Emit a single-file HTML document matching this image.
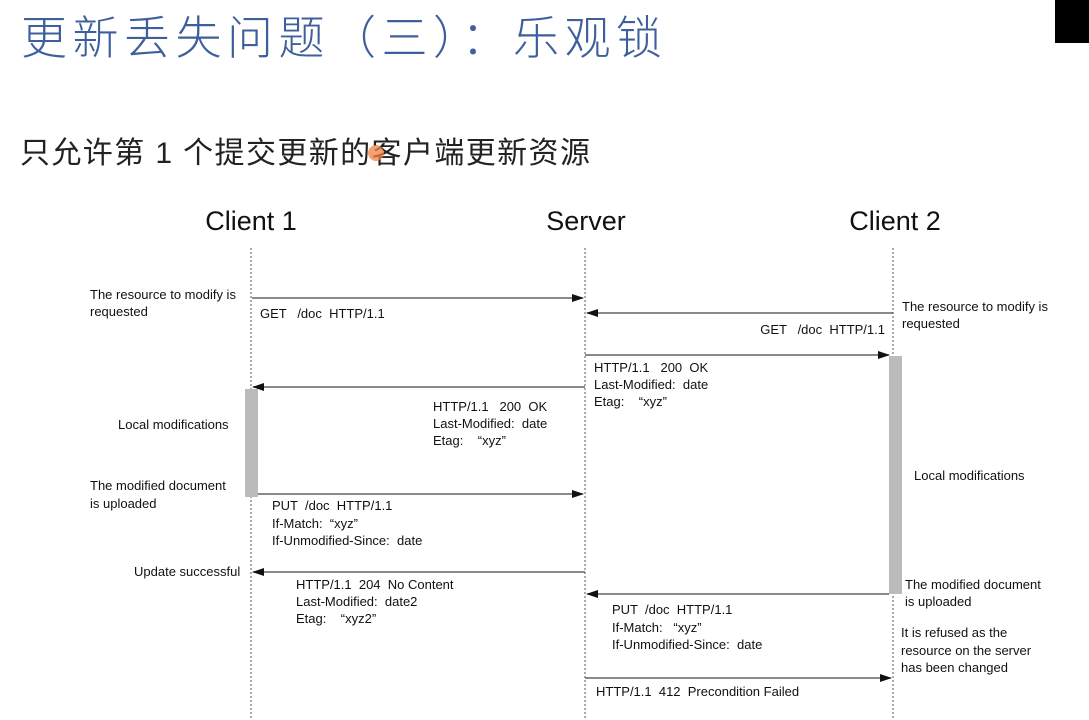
<!DOCTYPE html>
<html><head><meta charset="utf-8"><style>
body{margin:0;width:1089px;height:720px;background:#fff;overflow:hidden;position:relative;font-family:"Liberation Sans","Noto Sans CJK SC",sans-serif}
.t{position:absolute;white-space:nowrap}
svg text{white-space:pre}
</style></head><body>
<div class="t" style="left:21px;top:2px;font-size:46px;letter-spacing:5.5px;color:#3f5f9c;font-weight:300">更新丢失问题（三）：乐观锁</div>
<div style="position:absolute;left:1055px;top:0;width:34px;height:43px;background:#000"></div>
<div class="t" style="left:20px;top:128px;font-size:30px;letter-spacing:1.4px;color:#222">只允许第 1 个提交更新的客户端更新资源</div>
<div style="position:absolute;left:368px;top:145px;width:16px;height:16px;border-radius:50%;background:rgba(240,130,70,0.75)"></div>
<svg width="1089" height="720" style="position:absolute;left:0;top:0" font-family="Liberation Sans, sans-serif" font-size="13" fill="#111" xml:space="preserve">
<defs><marker id="a" markerWidth="12" markerHeight="8" refX="11" refY="4" orient="auto" markerUnits="userSpaceOnUse"><path d="M0,0 L12,4 L0,8z" fill="#111"/></marker></defs>
<text x="251" y="230" font-size="27" text-anchor="middle">Client 1</text>
<text x="586" y="230" font-size="27" text-anchor="middle">Server</text>
<text x="895" y="230" font-size="27" text-anchor="middle">Client 2</text>
<g stroke="#555" stroke-dasharray="2,2" stroke-width="1">
<line x1="251" y1="248" x2="251" y2="720"/><line x1="585" y1="248" x2="585" y2="720"/><line x1="893" y1="248" x2="893" y2="720"/></g>
<rect x="245" y="389" width="13" height="108" fill="#bbb"/>
<rect x="889" y="356" width="13" height="238" fill="#bbb"/>
<g stroke="#444" stroke-width="1.3" marker-end="url(#a)">
<line x1="252" y1="298" x2="583" y2="298"/>
<line x1="893" y1="313" x2="587" y2="313"/>
<line x1="585" y1="355" x2="889" y2="355"/>
<line x1="585" y1="387" x2="253" y2="387"/>
<line x1="258" y1="494" x2="583" y2="494"/>
<line x1="585" y1="572" x2="253" y2="572"/>
<line x1="889" y1="594" x2="587" y2="594"/>
<line x1="585" y1="678" x2="891" y2="678"/>
</g>
<text x="90" y="299">The resource to modify is</text><text x="90" y="316">requested</text>
<text x="260" y="318">GET   /doc  HTTP/1.1</text>
<text x="902" y="311">The resource to modify is</text><text x="902" y="328">requested</text>
<text x="885" y="334" text-anchor="end">GET   /doc  HTTP/1.1</text>
<text x="594" y="372">HTTP/1.1   200  OK</text><text x="594" y="389">Last-Modified:  date</text><text x="594" y="406">Etag:    “xyz”</text>
<text x="433" y="411">HTTP/1.1   200  OK</text><text x="433" y="428">Last-Modified:  date</text><text x="433" y="445">Etag:    “xyz”</text>
<text x="118" y="429">Local modifications</text>
<text x="914" y="480">Local modifications</text>
<text x="90" y="490">The modified document</text><text x="90" y="508">is uploaded</text>
<text x="272" y="510">PUT  /doc  HTTP/1.1</text><text x="272" y="528">If-Match:  “xyz”</text><text x="272" y="545">If-Unmodified-Since:  date</text>
<text x="134" y="576">Update successful</text>
<text x="296" y="589">HTTP/1.1  204  No Content</text><text x="296" y="606">Last-Modified:  date2</text><text x="296" y="623">Etag:    “xyz2”</text>
<text x="905" y="589">The modified document</text><text x="905" y="606">is uploaded</text>
<text x="612" y="614">PUT  /doc  HTTP/1.1</text><text x="612" y="632">If-Match:   “xyz”</text><text x="612" y="649">If-Unmodified-Since:  date</text>
<text x="901" y="637">It is refused as the</text><text x="901" y="655">resource on the server</text><text x="901" y="672">has been changed</text>
<text x="596" y="696">HTTP/1.1  412  Precondition Failed</text>
</svg>
</body></html>
